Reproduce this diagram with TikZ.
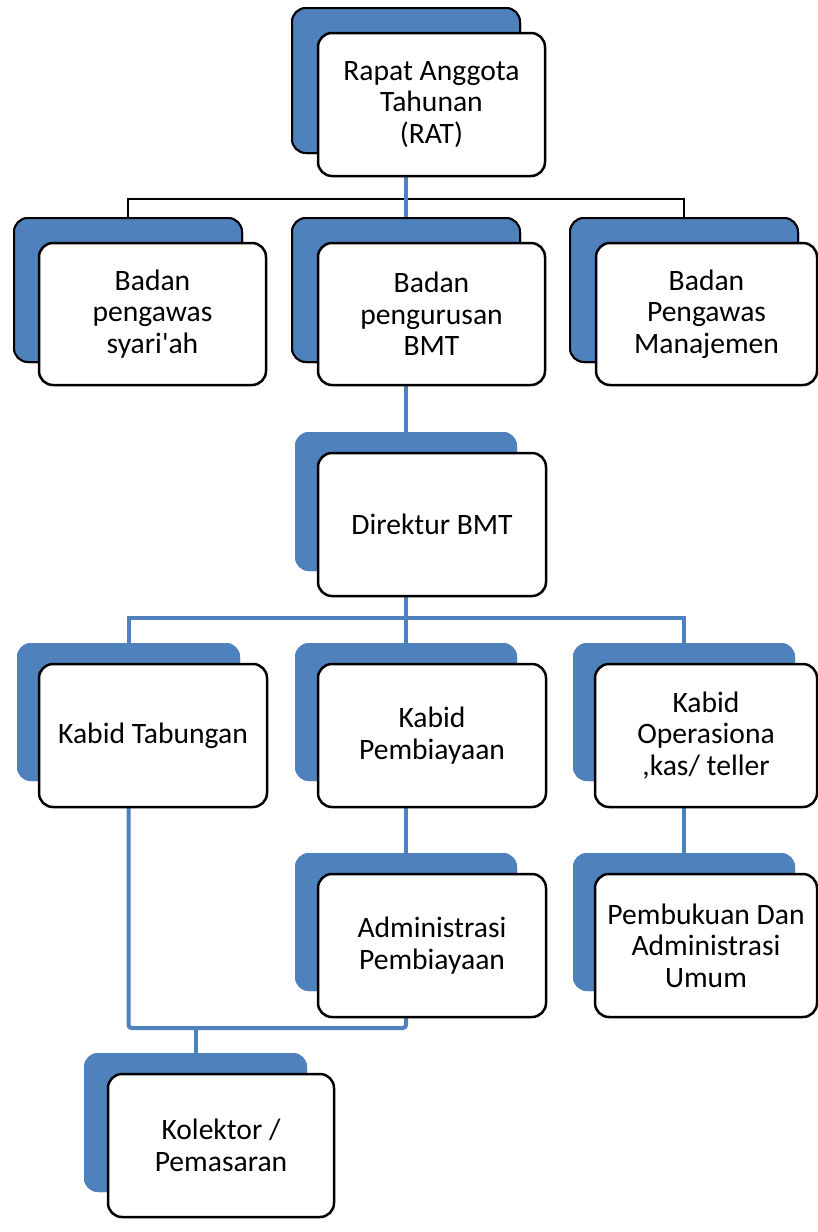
\documentclass[tikz,border=0pt]{standalone}
\usepackage{fontspec}
\setmainfont{Carlito}
\definecolor{blueC}{HTML}{4F81BD}
\tikzset{
  backbd/.style={rectangle, rounded corners=14pt, fill=blueC, draw=black, line width=2pt, inner sep=0pt},
  backpl/.style={rectangle, rounded corners=14pt, fill=blueC, inner sep=0pt},
  frontbox/.style={rectangle, rounded corners=14pt, fill=white, draw=black, line width=2.5pt,
    align=center, inner sep=0pt, font=\fontsize{29.6}{31.5}\selectfont},
  blkline/.style={draw=black, line width=2pt},
  blueline/.style={draw=blueC, line width=4pt}
}
\begin{document}
\begin{tikzpicture}[x=1pt,y=-1pt]
\useasboundingbox (0,0) rectangle (818,1232);
% back boxes (positions)
\node[backbd, minimum width=228pt, minimum height=145pt] (ratb) at (406,80.5) {};
\node[backbd, minimum width=228pt, minimum height=144pt] (syab) at (128,290) {};
\node[backbd, minimum width=228pt, minimum height=144pt] (bmtb) at (406,290) {};
\node[backbd, minimum width=228pt, minimum height=144pt] (manb) at (684,290) {};
\node[backpl, minimum width=222pt, minimum height=139pt] (dirb) at (406,501.5) {};
\node[backpl, minimum width=223pt, minimum height=138pt] (tabb) at (128.5,712) {};
\node[backpl, minimum width=222pt, minimum height=138pt] (pemb) at (406,712) {};
\node[backpl, minimum width=222pt, minimum height=138pt] (opsb) at (684,712) {};
\node[backpl, minimum width=222pt, minimum height=138pt] (admb) at (406,922) {};
\node[backpl, minimum width=222pt, minimum height=138pt] (bukb) at (684,922) {};
\node[backpl, minimum width=223pt, minimum height=139pt] (kolb) at (195.5,1122.5) {};
% connector junctions
\coordinate (j1) at (406,199);
\coordinate (j2) at (406,618);
\coordinate (j3) at (406,1028);
\coordinate (j4) at (195.5,1028);
% connectors (drawn under boxes)
\begin{scope}
\draw[blkline] (syab.north) |- (j1) -| (manb.north);
\draw[blueline] (ratb.south) -- (bmtb.north);
\draw[blueline] (bmtb.south) -- (dirb.north);
\draw[blueline] (tabb.north) |- (j2) -| (opsb.north);
\draw[blueline] (dirb.south) -- (pemb.north);
\draw[blueline] (pemb.south) -- (admb.north);
\draw[blueline] (opsb.south) -- (bukb.north);
\draw[blueline, rounded corners=3pt] (tabb.south) |- (j3) -- (admb.south);
\draw[blueline] (j4) -- (kolb.north);
\end{scope}
% redraw back boxes on top of connectors
\node[backbd, minimum width=228pt, minimum height=145pt] at (ratb) {};
\node[backbd, minimum width=228pt, minimum height=144pt] at (syab) {};
\node[backbd, minimum width=228pt, minimum height=144pt] at (bmtb) {};
\node[backbd, minimum width=228pt, minimum height=144pt] at (manb) {};
\node[backpl, minimum width=222pt, minimum height=139pt] at (dirb) {};
\node[backpl, minimum width=223pt, minimum height=138pt] at (tabb) {};
\node[backpl, minimum width=222pt, minimum height=138pt] at (pemb) {};
\node[backpl, minimum width=222pt, minimum height=138pt] at (opsb) {};
\node[backpl, minimum width=222pt, minimum height=138pt] at (admb) {};
\node[backpl, minimum width=222pt, minimum height=138pt] at (bukb) {};
\node[backpl, minimum width=223pt, minimum height=139pt] at (kolb) {};
% front boxes
\node[frontbox, minimum width=227pt, minimum height=143pt] (rat) at (431.5,104.5) {Rapat Anggota\\Tahunan\\(RAT)};
\node[frontbox, minimum width=227pt, minimum height=142pt] (sya) at (152.5,314) {Badan\\pengawas\\syari\textquotesingle ah};
\node[frontbox, minimum width=227pt, minimum height=142pt] (bmt) at (431.5,314) {Badan\\pengurusan\\BMT};
\node[frontbox, minimum width=221pt, minimum height=142pt] (man) at (706.5,314) {Badan\\Pengawas\\Manajemen};
\node[frontbox, minimum width=228pt, minimum height=143pt] (dir) at (432,524.5) {Direktur BMT};
\node[frontbox, minimum width=228pt, minimum height=143pt] (tab) at (153,735.5) {Kabid Tabungan};
\node[frontbox, minimum width=228pt, minimum height=143pt] (pem) at (432,735.5) {Kabid\\Pembiayaan};
\node[frontbox, minimum width=222pt, minimum height=143pt] (ops) at (706,735.5) {Kabid\\Operasiona\\,kas/ teller};
\node[frontbox, minimum width=228pt, minimum height=143pt] (adm) at (432,945.5) {Administrasi\\Pembiayaan};
\node[frontbox, minimum width=222pt, minimum height=143pt] (buk) at (706,945.5) {Pembukuan Dan\\Administrasi\\Umum};
\node[frontbox, minimum width=226pt, minimum height=143pt] (kol) at (221,1145.5) {Kolektor /\\Pemasaran};
\end{tikzpicture}
\end{document}
